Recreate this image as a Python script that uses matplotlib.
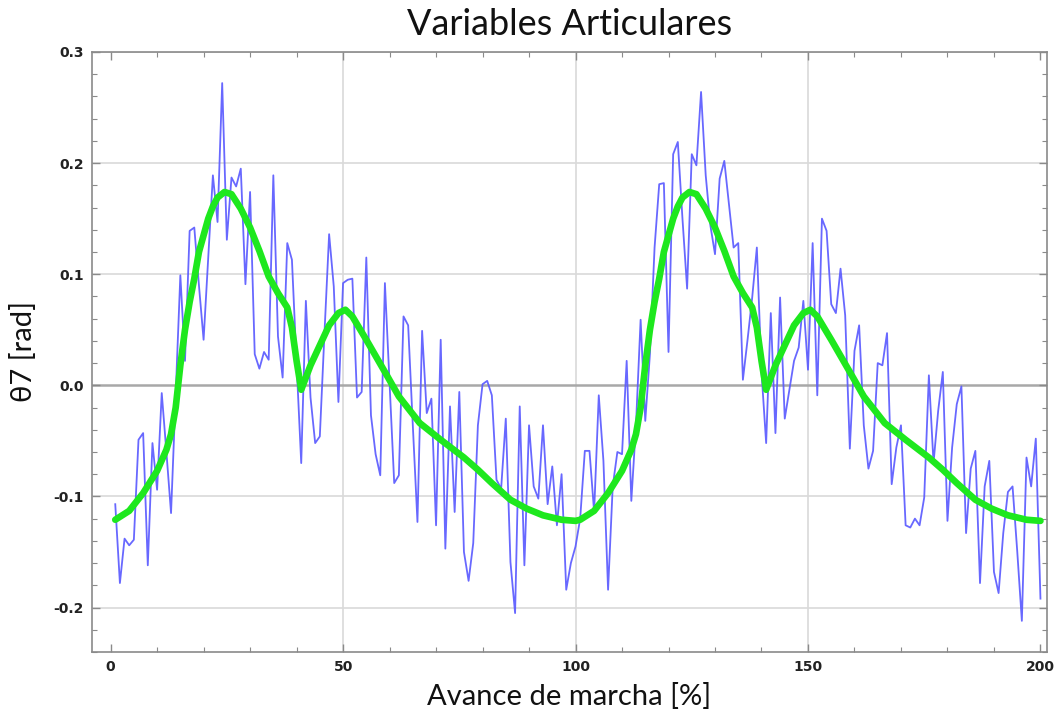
import matplotlib
matplotlib.use("Agg")
import matplotlib.pyplot as plt
from matplotlib.ticker import MultipleLocator

# Joint angle theta7 over two gait cycles (measured, noisy)
percent = list(range(1, 201))
theta_measured = [
    -0.107, -0.178, -0.138, -0.144, -0.139, -0.049, -0.043, -0.162, -0.052, -0.094,
    -0.007, -0.060, -0.115, -0.008, 0.099, 0.022, 0.139, 0.142, 0.090, 0.041,
    0.115, 0.189, 0.147, 0.272, 0.131, 0.187, 0.179, 0.195, 0.091, 0.174,
    0.028, 0.015, 0.030, 0.023, 0.189, 0.044, 0.007, 0.128, 0.113, 0.020,
    -0.070, 0.076, -0.011, -0.052, -0.046, 0.047, 0.136, 0.089, -0.015, 0.092,
    0.095, 0.096, -0.011, -0.006, 0.115, -0.027, -0.062, -0.081, 0.092, 0.002,
    -0.088, -0.081, 0.062, 0.054, -0.036, -0.123, 0.049, -0.025, -0.012, -0.126,
    0.041, -0.147, -0.019, -0.114, -0.006, -0.150, -0.176, -0.142, -0.036, 0.001,
    0.004, -0.009, -0.085, -0.093, -0.030, -0.159, -0.205, -0.019, -0.162, -0.036,
    -0.091, -0.102, -0.036, -0.107, -0.073, -0.126, -0.080, -0.184, -0.160, -0.145,
    -0.120, -0.059, -0.059, -0.114, -0.009, -0.068, -0.184, -0.091, -0.060, -0.062,
    0.022, -0.104, -0.036, 0.059, -0.032, 0.028, 0.124, 0.181, 0.182, 0.030,
    0.208, 0.219, 0.150, 0.087, 0.208, 0.198, 0.264, 0.189, 0.144, 0.118,
    0.186, 0.202, 0.163, 0.124, 0.128, 0.005, 0.041, 0.079, 0.124, 0.012,
    -0.052, 0.065, -0.043, 0.079, -0.030, -0.004, 0.022, 0.034, 0.076, 0.014,
    0.128, -0.009, 0.150, 0.139, 0.073, 0.065, 0.105, 0.063, -0.057, 0.031,
    0.054, -0.036, -0.075, -0.059, 0.020, 0.018, 0.047, -0.089, -0.056, -0.036,
    -0.126, -0.128, -0.120, -0.126, -0.101, 0.009, -0.070, -0.023, 0.012, -0.122,
    -0.056, -0.017, -0.001, -0.133, -0.075, -0.059, -0.178, -0.091, -0.068, -0.168,
    -0.187, -0.133, -0.096, -0.091, -0.149, -0.212, -0.065, -0.091, -0.048, -0.192,
]

# Smoothed reference trajectory
smooth_percent = [
    1, 4, 7, 10, 12, 13, 14, 15, 16, 17, 18, 19, 20, 21, 22, 23, 24.5, 26, 28,
    30, 32, 34, 36, 38, 39, 40, 41, 43, 45, 47, 49, 50.5, 52, 55, 59, 62, 66.5,
    71, 76, 79, 82, 86, 89.5, 93, 97, 100,
    101, 104, 107, 110, 112, 113, 114, 115, 116, 117, 118, 119, 120, 121, 122,
    123, 124.5, 126, 128, 130, 132, 134, 136, 138, 139, 140, 141, 143, 145, 147,
    149, 150.5, 152, 155, 159, 162, 166.5, 171, 176, 179, 182, 186, 189.5, 193,
    197, 200,
]
theta_smooth = [
    -0.121, -0.113, -0.097, -0.077, -0.058, -0.044, -0.020, 0.018, 0.050, 0.075,
    0.096, 0.120, 0.135, 0.150, 0.161, 0.169, 0.174, 0.172, 0.159,
    0.142, 0.121, 0.098, 0.083, 0.070, 0.052, 0.022, -0.004, 0.018, 0.036, 0.054,
    0.065, 0.068, 0.062, 0.041, 0.012, -0.010, -0.034,
    -0.049, -0.065, -0.076, -0.088, -0.103, -0.111, -0.117, -0.121, -0.122,
    -0.121, -0.113, -0.097, -0.077, -0.058, -0.044, -0.020, 0.018, 0.050, 0.075,
    0.096, 0.120, 0.135, 0.150, 0.161,
    0.169, 0.174, 0.172, 0.159, 0.142, 0.121, 0.098, 0.083, 0.070, 0.052, 0.022,
    -0.004, 0.018, 0.036, 0.054,
    0.065, 0.068, 0.062, 0.041, 0.012, -0.010, -0.034, -0.049, -0.065, -0.076,
    -0.088, -0.103, -0.111, -0.117,
    -0.121, -0.122,
]

x_ticks = [0, 50, 100, 150, 200]
y_ticks = [-0.2, -0.1, 0.0, 0.1, 0.2, 0.3]

frame_gray = "#8a8a8a"
grid_gray = "#d9d9d9"

fig = plt.figure(figsize=(10.6, 7.17), dpi=100)
ax = fig.add_axes([0.0868, 0.0907, 0.9009, 0.8368])

ax.set_xlim(-4.0, 201.4)
ax.set_ylim(-0.240, 0.300)

for xv in x_ticks[1:-1]:
    ax.axvline(xv, color=grid_gray, lw=1.2, zorder=0)
for yv in y_ticks:
    if yv == 0.0:
        ax.axhline(yv, color="#a8a8a8", lw=1.8, zorder=0)
    else:
        ax.axhline(yv, color=grid_gray, lw=1.2, zorder=0)

ax.plot(percent, theta_measured, color="#5858ff", lw=1.3, alpha=0.9, zorder=2)
ax.plot(smooth_percent, theta_smooth, color="#1ee81e", lw=4.8,
        solid_capstyle="round", solid_joinstyle="round", zorder=3)

ax.set_xticks(x_ticks)
ax.set_yticks(y_ticks)
ax.set_xticklabels([str(v) for v in x_ticks])
ax.set_yticklabels([f"{v:.1f}" for v in y_ticks])
ax.xaxis.set_minor_locator(MultipleLocator(10))
ax.yaxis.set_minor_locator(MultipleLocator(0.02))

ax.tick_params(which="both", direction="in", colors=frame_gray,
               top=True, right=True, labelcolor="#222222")
ax.tick_params(which="major", length=6, width=1.0, labelsize=10, pad=6)
ax.tick_params(which="minor", length=3.5, width=0.8)
for lab in ax.get_xticklabels() + ax.get_yticklabels():
    lab.set_fontweight("bold")
    lab.set_family("DejaVu Sans")

for sp in ax.spines.values():
    sp.set_color(frame_gray)
    sp.set_linewidth(1.2)

ax.set_title("Variables Articulares", fontsize=26, family="Lato", pad=12,
             color="#111111")
ax.set_xlabel("Avance de marcha [%]", fontsize=21, family="Lato",
              labelpad=6, color="#111111")
ax.set_ylabel("θ7 [rad]", fontsize=21, family="Lato", color="#111111")
ax.yaxis.set_label_coords(-0.058, 0.5)

fig.savefig("out.png", dpi=100, facecolor="white")
